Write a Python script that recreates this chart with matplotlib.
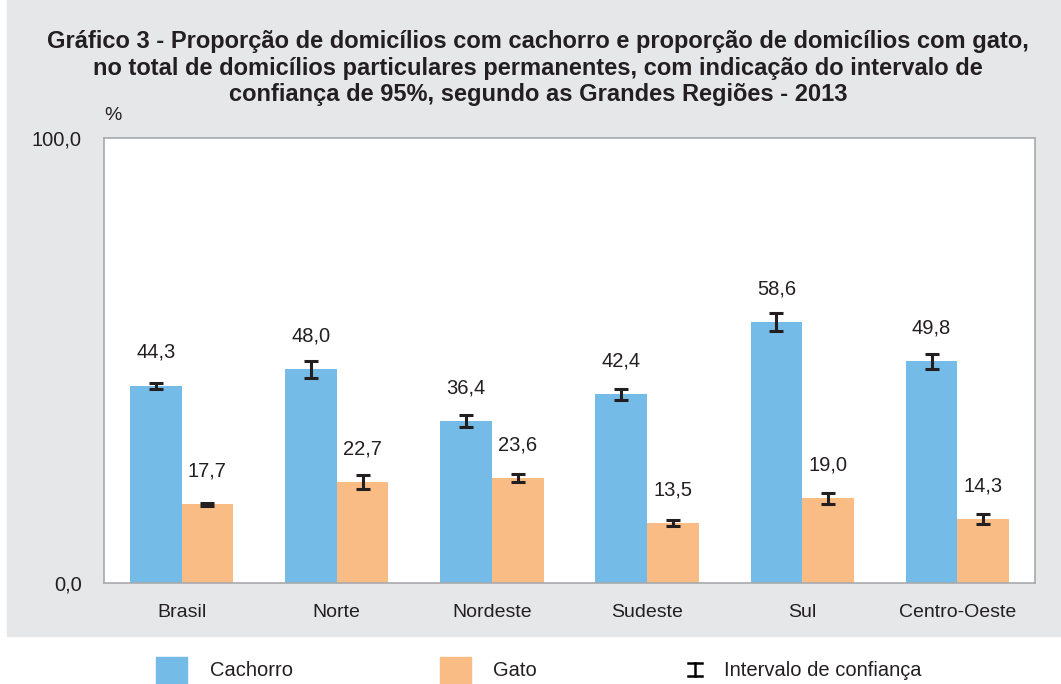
import matplotlib.pyplot as plt
import matplotlib.patches as mpatches
from matplotlib.lines import Line2D
import numpy as np

plt.rcParams['font.family'] = ['Liberation Sans', 'DejaVu Sans']

regioes = ['Brasil', 'Norte', 'Nordeste', 'Sudeste', 'Sul', 'Centro-Oeste']
cachorro = [44.3, 48.0, 36.4, 42.4, 58.6, 49.8]
gato = [17.7, 22.7, 23.6, 13.5, 19.0, 14.3]
# half-width of the 95% confidence interval
ic_cachorro = [0.6, 1.9, 1.4, 1.3, 2.0, 1.6]
ic_gato = [0.3, 1.6, 1.0, 0.7, 1.3, 1.1]

azul = '#74BCE7'
laranja = '#F9BC85'
cinza = '#E6E7E9'
texto = '#231F20'

W, H = 1061, 684
fig = plt.figure(figsize=(W / 100, H / 100), dpi=100)

# grey panel behind the chart
fig.add_artist(mpatches.Rectangle((7 / W, 1 - 636 / H), 1 - 7 / W, 636 / H,
                                  transform=fig.transFigure, color=cinza, zorder=-10))

ax = fig.add_axes([104 / W, 1 - 583 / H, (1035 - 104) / W, (583 - 138) / H])
ax.set_facecolor('white')

x = np.arange(len(regioes))
w = 0.333
err_kw = dict(ecolor=texto, elinewidth=2.2, capsize=5, capthick=2.2)
ax.bar(x - w / 2, cachorro, w, color=azul, yerr=ic_cachorro, error_kw=err_kw)
ax.bar(x + w / 2, gato, w, color=laranja, yerr=ic_gato, error_kw=err_kw)

for i in range(len(regioes)):
    ax.text(x[i] - w / 2, cachorro[i] + 7.5, f'{cachorro[i]:.1f}'.replace('.', ','),
            ha='center', va='center', fontsize=14.5, color=texto)
    ax.text(x[i] + w / 2, gato[i] + 7.5, f'{gato[i]:.1f}'.replace('.', ','),
            ha='center', va='center', fontsize=14.5, color=texto)

ax.set_xlim(-0.5, len(regioes) - 0.5)
ax.set_ylim(0, 100)
ax.set_yticks([0, 100])
ax.set_yticklabels(['0,0', '100,0'], fontsize=14.5, color=texto)
ax.set_xticks(x)
ax.set_xticklabels(regioes, fontsize=14, color=texto)
ax.tick_params(length=0)
ax.tick_params(axis='x', pad=15)
ax.tick_params(axis='y', pad=16)
for s in ax.spines.values():
    s.set_color('#A7A9AC')
    s.set_linewidth(1.2)

fig.text(113 / W, 1 - 115 / H, '%', ha='center', va='center', fontsize=14, color=texto)

fig.text(538 / W, 1 - 68 / H,
         'Gráfico 3 - Proporção de domicílios com cachorro e proporção de domicílios com gato,\n'
         'no total de domicílios particulares permanentes, com indicação do intervalo de\n'
         'confiança de 95%, segundo as Grandes Regiões - 2013',
         ha='center', va='center', fontsize=17, fontweight='bold', color=texto, linespacing=1.22)

# legend
ly = 1 - 670 / H
fig.add_artist(mpatches.Rectangle((156 / W, 0), 31 / W, 27 / H, transform=fig.transFigure, color=azul))
fig.text(210 / W, ly, 'Cachorro', va='center', fontsize=14.5, color=texto)
fig.add_artist(mpatches.Rectangle((440 / W, 0), 31 / W, 27 / H, transform=fig.transFigure, color=laranja))
fig.text(493 / W, ly, 'Gato', va='center', fontsize=14.5, color=texto)
cx, y0, y1 = 695 / W, 1 - 676 / H, 1 - 663 / H
for seg in [([cx, cx], [y0, y1]), ([cx - 7 / W, cx + 7 / W], [y0, y0]), ([cx - 7 / W, cx + 7 / W], [y1, y1])]:
    fig.add_artist(Line2D(seg[0], seg[1], transform=fig.transFigure, color='black', lw=1.8))
fig.text(724 / W, ly, 'Intervalo de confiança', va='center', fontsize=14.5, color=texto)

fig.savefig('out.png', dpi=100)
